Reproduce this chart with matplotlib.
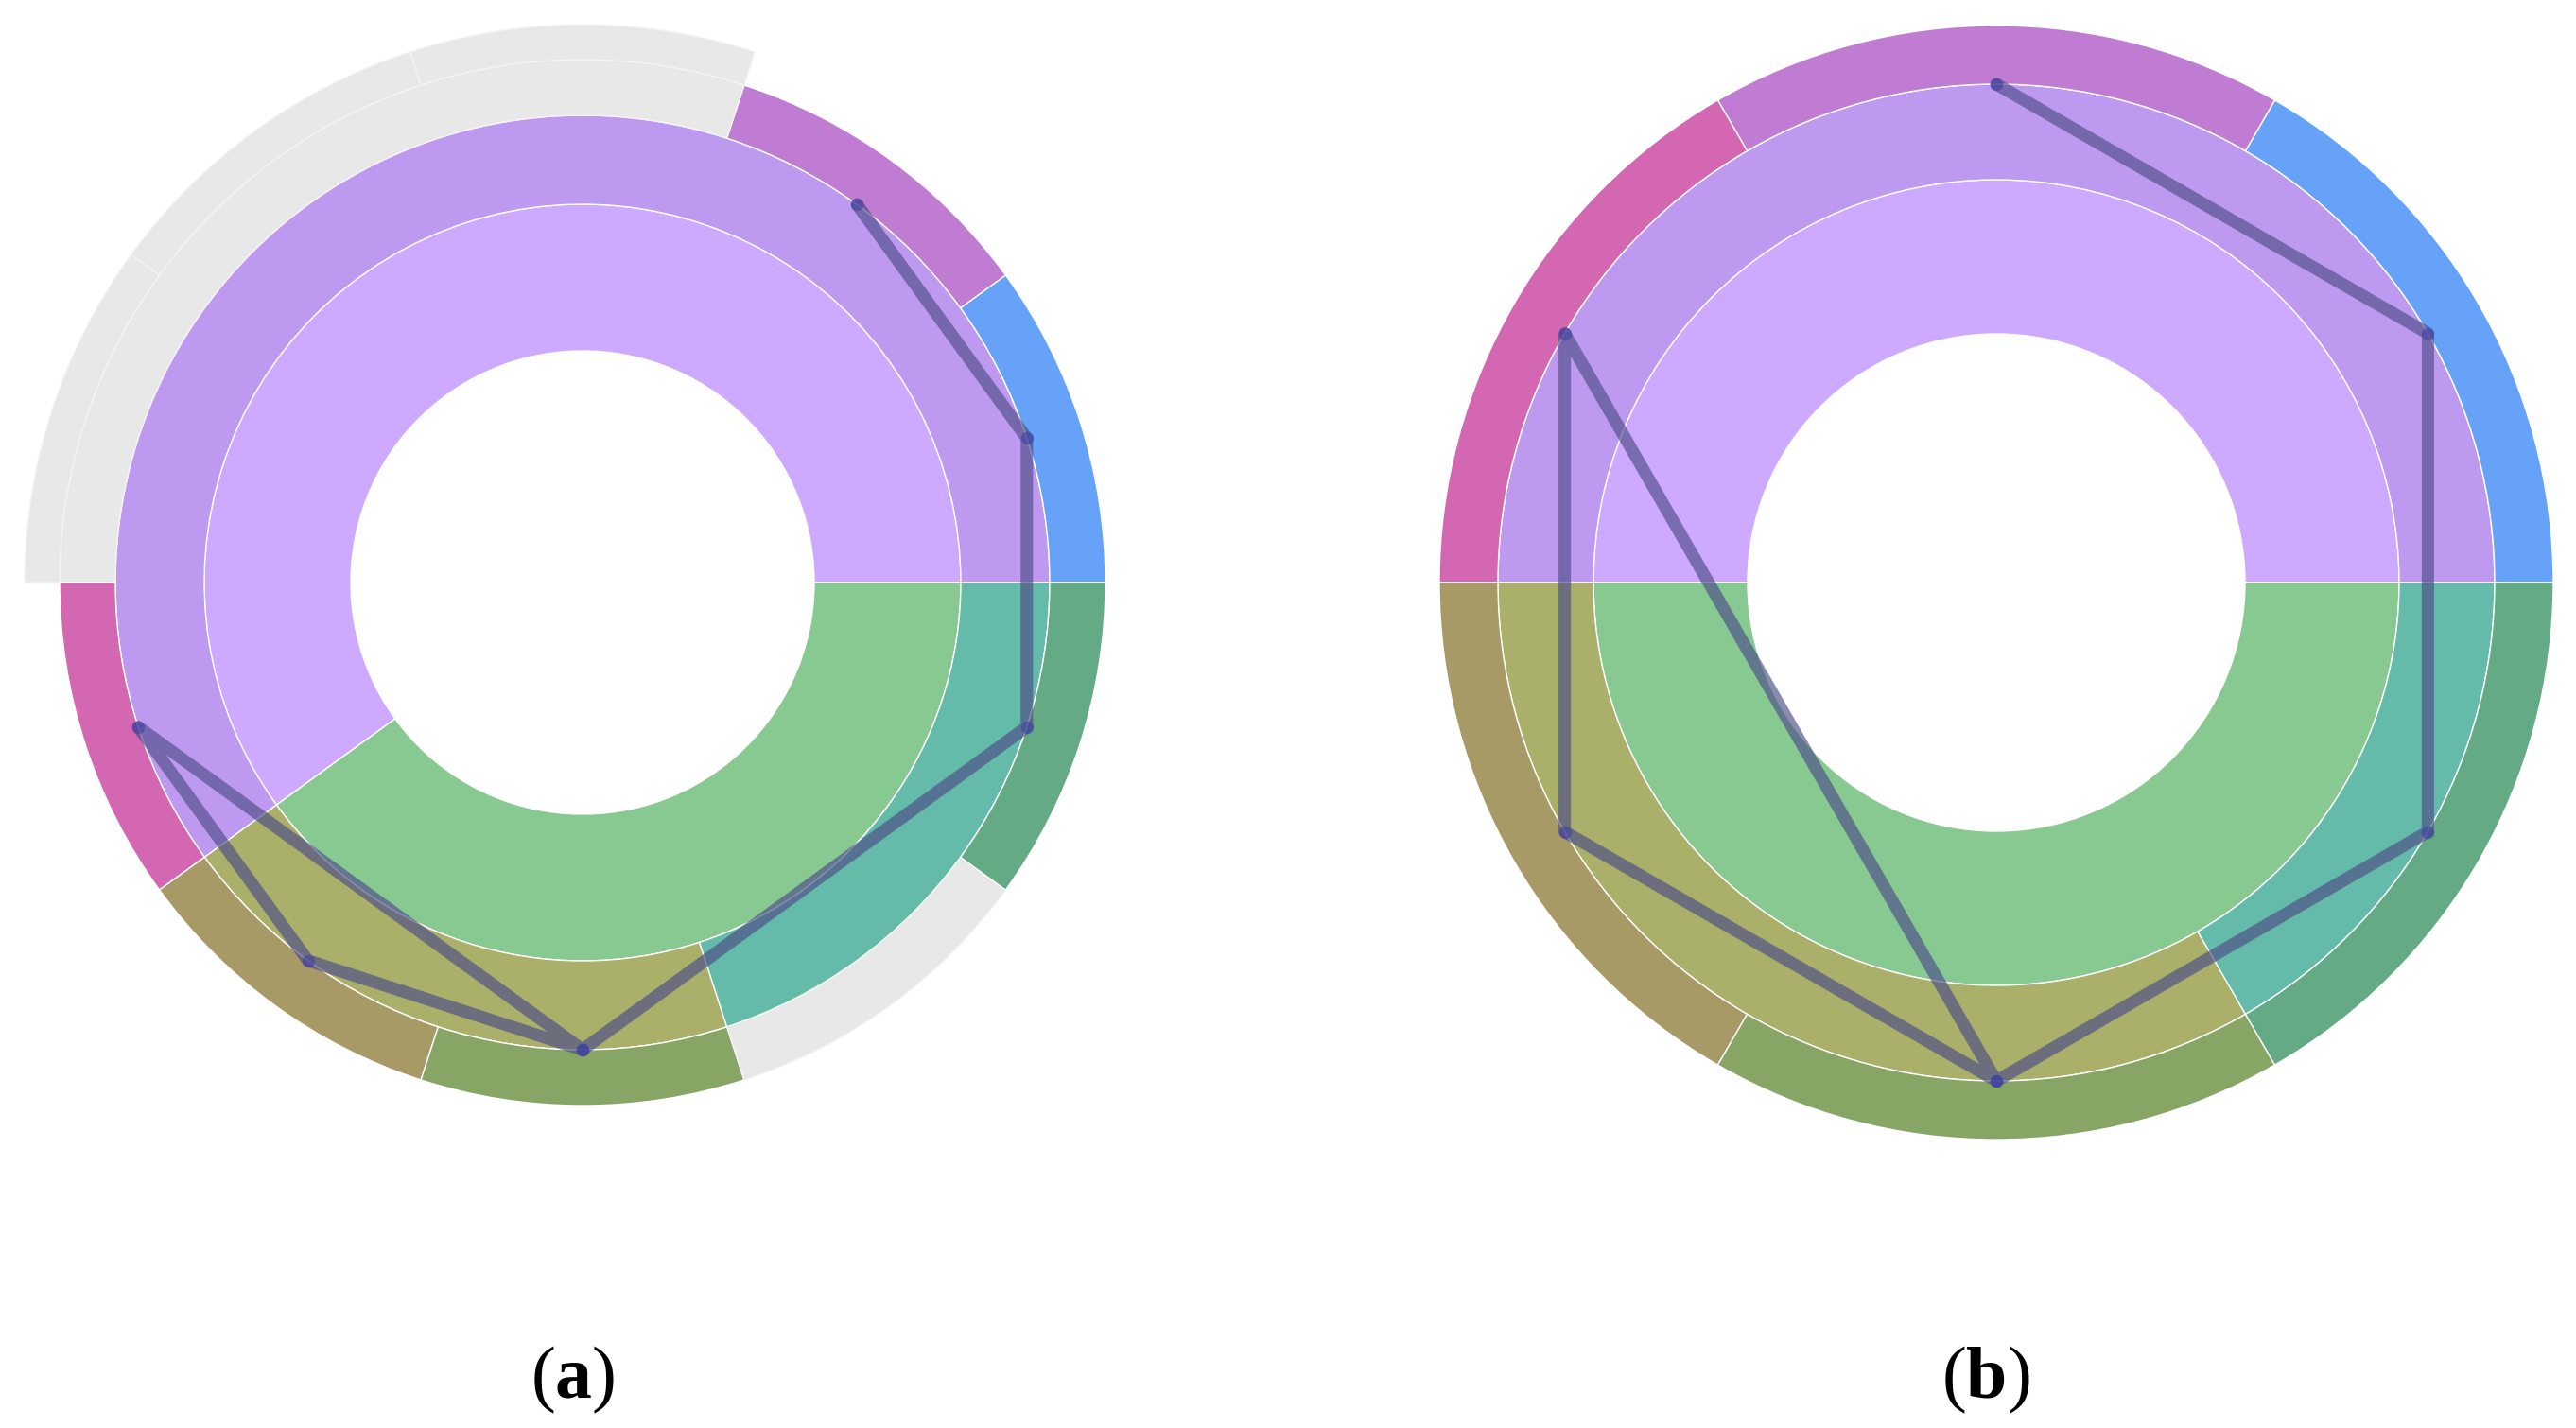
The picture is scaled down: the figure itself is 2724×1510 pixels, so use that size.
import matplotlib
matplotlib.use('Agg')
import matplotlib.pyplot as plt
import numpy as np

plt.rcParams['mathtext.fontset'] = 'custom'
plt.rcParams['mathtext.rm'] = 'Liberation Serif'
plt.rcParams['mathtext.bf'] = 'Liberation Serif:bold'

# ring segments as (start_deg, span_deg), counter-clockwise from east
a_ring1 = [(0, 216), (216, 144)]
a_ring2 = [(0, 216), (216, 72), (288, 72)]
a_ring3 = [(0, 36), (36, 36), (72, 108), (180, 36), (216, 36), (252, 36), (288, 36), (324, 36)]
a_ring4 = [(72, 36), (108, 36), (144, 36)]
a_path = [54, 18, -18, -90, -162, -126, -90]

b_ring1 = [(0, 180), (180, 180)]
b_ring2 = [(0, 180), (180, 120), (300, 60)]
b_ring3 = [(0, 60), (60, 60), (120, 60), (180, 60), (240, 60), (300, 60)]
b_path = [90, 30, -30, -90, -150, 150, -90]

labels = ['a', 'b']

# colours
LPURPLE = '#cdaaff'
PURPLE = '#bd99f0'
GREEN = '#88c992'
TEAL = '#65bbaa'
OLIVE = '#aaaf6a'
BLUE = '#66a3f8'
MAGENTA = '#c07bd3'
PINK = '#d467b1'
BROWN = '#a89a66'
OLGREEN = '#87a565'
DKGREEN = '#64aa84'
GREY = '#e8e8e8'

a_colors = [
    [LPURPLE, GREEN],
    [PURPLE, OLIVE, TEAL],
    [BLUE, MAGENTA, GREY, PINK, BROWN, OLGREEN, GREY, DKGREEN],
    [GREY, GREY, GREY],
]
b_colors = [
    [LPURPLE, GREEN],
    [PURPLE, OLIVE, TEAL],
    [BLUE, MAGENTA, PINK, BROWN, OLGREEN, DKGREEN],
]

W, H = 2724, 1510
fig = plt.figure(figsize=(W / 100, H / 100), dpi=100)

RMAX = 600  # axes radius in pixels


def make_ax(cx, cy):
    ax = fig.add_axes([(cx - RMAX) / W, (H - cy - RMAX) / H, 2 * RMAX / W, 2 * RMAX / H],
                      projection='polar')
    ax.set_ylim(0, RMAX)
    ax.set_axis_off()
    return ax


def draw_sunburst(ax, rings, colors, radii, path):
    for i, ring in enumerate(rings):
        starts = np.deg2rad([s for s, _ in ring])
        spans = np.deg2rad([w for _, w in ring])
        edges = ['#f4f4f4' if c == GREY else 'white' for c in colors[i]]
        ax.bar(starts, radii[i + 1] - radii[i], width=spans, bottom=radii[i],
               align='edge', color=colors[i], edgecolor=edges, linewidth=1.0)
    th = np.deg2rad(path)
    r = np.full(len(th), radii[2])
    ax.plot(th, r, color='#4d4c88', alpha=0.65, lw=9.4,
            solid_capstyle='round', solid_joinstyle='round', zorder=5)
    ax.scatter(th, r, s=95, color='#3d3da0', alpha=0.55, lw=0, zorder=6)


ax_a = make_ax(616, 616)
draw_sunburst(ax_a, [a_ring1, a_ring2, a_ring3, a_ring4], a_colors,
              [245, 400, 494, 553, 590], a_path)

ax_b = make_ax(2111, 616)
draw_sunburst(ax_b, [b_ring1, b_ring2, b_ring3], b_colors,
              [263, 426, 527, 589], b_path)

for lab, x in zip(labels, [606, 2100]):
    fig.text(x / W, (H - 1478) / H, '($\\mathbf{%s}$)' % lab, ha='center', va='baseline',
             fontsize=56, family='Liberation Serif')

fig.savefig('out.png', dpi=100)
